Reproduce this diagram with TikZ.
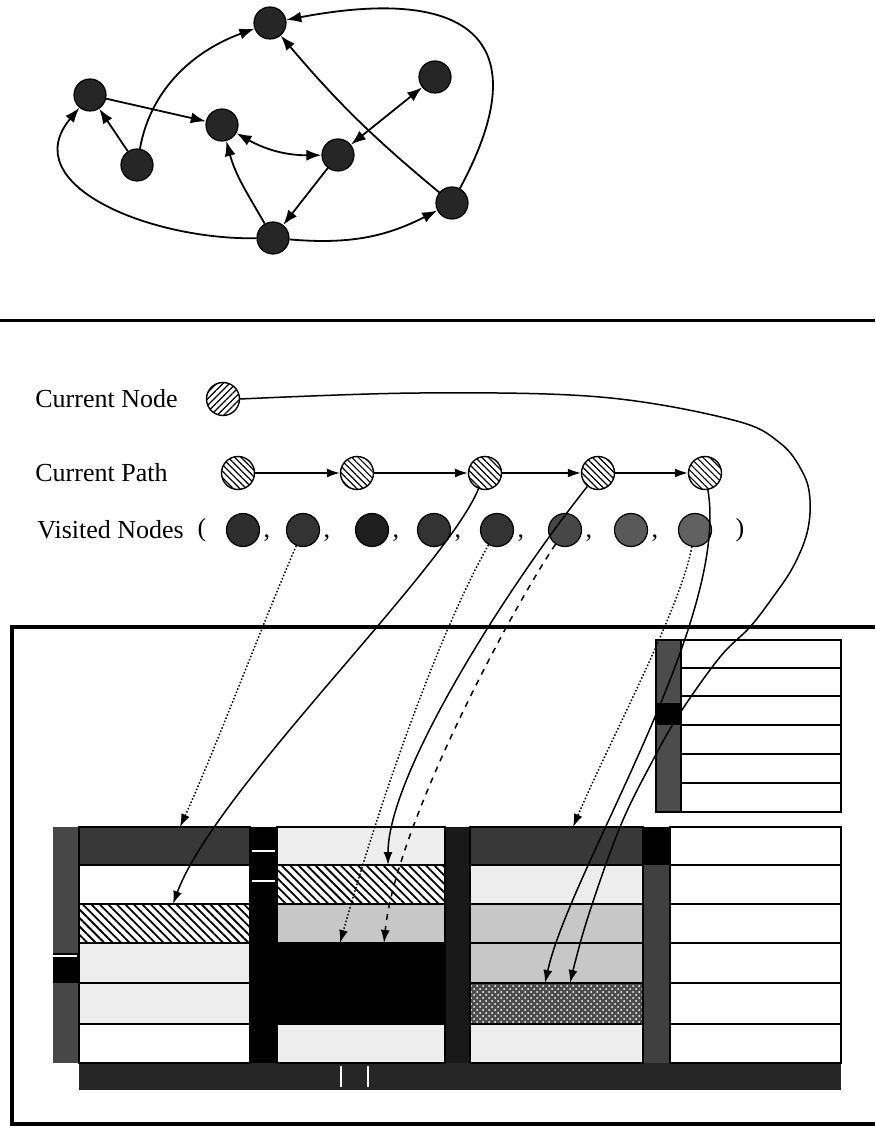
\documentclass[tikz,border=0pt]{standalone}
\usepackage{fontspec}
\setmainfont{Liberation Serif}
\usetikzlibrary{arrows.meta,patterns,patterns.meta}

\begin{document}
\begin{tikzpicture}[x=0.5pt,y=0.5pt,>={Latex[length=6.5pt,width=4.5pt]},
		gnode/.style={circle,draw,line width=0.6pt,fill=black!85,minimum size=16pt,inner sep=0pt},
		vnode/.style={circle,draw,line width=0.6pt,minimum size=16.5pt,inner sep=0pt},
		pnode/.style={circle,draw,line width=0.7pt,minimum size=16.5pt,inner sep=0pt,pattern={Lines[angle=-45,distance=2.3pt,line width=0.6pt]}},
		cnnode/.style={pnode,pattern={Lines[angle=45,distance=2.3pt,line width=0.6pt]}},
		lbl/.style={font=\fontsize{13}{15}\selectfont,inner sep=0pt},
		gedge/.style={line width=0.9pt,>={Latex[length=7.5pt,width=5.5pt]}},
		link/.style={line width=0.75pt},
		blankcell/.style={fill=white},
		darkcell/.style={fill=black!78},
		lightcell/.style={fill=black!7},
		midcell/.style={fill=black!22},
		blackcell/.style={fill=black},
		hatchcell/.style={pattern={Lines[angle=-45,distance=3pt,line width=0.9pt]}},
		xdots/.style={preaction={fill=black!70},pattern=crosshatch dots,pattern color=white}]
	\useasboundingbox (0,0) rectangle (875,-1127);

	% the graph
	\node[gnode] (A) at (270,-23) {};
	\node[gnode] (B) at (90,-95) {};
	\node[gnode] (C) at (435,-77) {};
	\node[gnode] (D) at (222,-125) {};
	\node[gnode] (E) at (338,-155) {};
	\node[gnode] (F) at (137,-165) {};
	\node[gnode] (G) at (452,-203) {};
	\node[gnode] (H) at (273,-238) {};
	\draw[gedge,->] (F) .. controls (151,-87) and (196,-50) .. (A);
	\draw[gedge,->] (F) -- (B);
	\draw[gedge,->] (B) -- (D);
	\draw[gedge,<->] (D) to[bend right=15] (E);
	\draw[gedge,<->] (C) -- (E);
	\draw[gedge,->] (E) -- (H);
	\draw[gedge,->] (H) to[out=120,in=-75] (D);
	\draw[gedge,->] (H) .. controls (150,-240) and (15,-185) .. (B);
	\draw[gedge,->] (H) to[bend right=16] (G);
	\draw[gedge,->] (G) to[bend left=5] (A);
	\draw[gedge,->] (G) .. controls (540,-40) and (470,15) .. (A);

	\draw[line width=1.5pt] (0,-321) -- (875,-321);

	% current node, path and visited nodes
	\node[lbl,anchor=west] (tcn) at (35,-399) {Current Node};
	\node[cnnode] (cn) at (223,-399) {};
	\node[lbl,anchor=west] (tcp) at (35,-473) {Current Path};
	\foreach \i/\x in {1/238,2/357,3/485,4/598,5/705}
		\node[pnode] (p\i) at (\x,-473) {};
	\foreach \i/\j in {1/2,2/3,3/4,4/5}
		\draw[link,->] (p\i) -- (p\j);
	\node[lbl,anchor=west] (tvn) at (37,-530) {Visited Nodes};
	\node[lbl] (lpar) at (202,-530) {(};
	\foreach \i/\x/\g in {1/243/82,2/303/80,3/372/88,4/434/80,5/497/80,6/565/72,7/631/65,8/695/62}
		\node[vnode,fill=black!\g] (v\i) at (\x,-530) {};
	\foreach \i in {1,...,7}
		\node[lbl,anchor=west] at ([shift={(3,-8)}]v\i.east) {,};
	\node[lbl] (rpar) at (740,-530) {)};

	% memory
	\draw[line width=2.3pt] (875,-627) -- (12,-627) -- (12,-1124) -- (875,-1124);
	\fill[black!70] (656,-640) rectangle (681,-812);
	\fill[black] (656,-703) rectangle (681,-725);
	\foreach \ya/\yb in {640/668,668/696,696/725,725/754,754/783,783/812}
		\draw[line width=0.8pt] (681,-\ya) rectangle (841,-\yb);
	\draw[line width=0.8pt] (656,-640) rectangle (841,-812);

	\fill[black!72] (53,-827) rectangle (79,-1063);
	\fill[black] (53,-953) rectangle (79,-983);
	\fill[black] (250,-827) rectangle (277,-1063);
	\fill[black!90] (445,-827) rectangle (470,-1063);
	\fill[black!75] (643,-827) rectangle (670,-1063);
	\fill[black] (643,-827) rectangle (670,-865);
	\fill[black!85] (79,-1063) rectangle (841,-1090);
	\draw[white,line width=0.8pt] (341,-1066) -- (341,-1087) (368,-1066) -- (368,-1087);
	\draw[white,line width=0.6pt] (252,-851) -- (275,-851) (252,-881) -- (275,-881) (53,-956) -- (77,-956);
	\foreach \xa/\xb/\ya/\yb/\s in {
			79/250/827/865/darkcell, 79/250/865/904/blankcell, 79/250/904/943/hatchcell,
			79/250/943/983/lightcell, 79/250/983/1024/lightcell, 79/250/1024/1063/blankcell,
			277/445/827/865/lightcell, 277/445/865/904/hatchcell, 277/445/904/943/midcell,
			277/445/943/983/blackcell, 277/445/983/1024/blackcell, 277/445/1024/1063/lightcell,
			470/643/827/865/darkcell, 470/643/865/904/lightcell, 470/643/904/943/midcell,
			470/643/943/983/midcell, 470/643/983/1024/xdots, 470/643/1024/1063/lightcell,
			670/841/827/865/blankcell, 670/841/865/904/blankcell, 670/841/904/943/blankcell,
			670/841/943/983/blankcell, 670/841/983/1024/blankcell, 670/841/1024/1063/blankcell}
		\filldraw[\s,line width=0.8pt] (\xa,-\ya) rectangle (\xb,-\yb);

	% pointers into memory
	\coordinate (a1) at (180,-827);
	\coordinate (a3) at (173,-904);
	\coordinate (b2) at (388,-865);
	\coordinate (b4) at (384,-943);
	\coordinate (b4l) at (340,-943);
	\coordinate (c1) at (573,-827);
	\coordinate (c5) at (545,-983);
	\coordinate (c5r) at (570,-983);
	\draw[link,->,densely dotted] (v2) .. controls (260,-630) and (215,-750) .. (a1);
	\draw[link,->] (p3) .. controls (445,-570) and (215,-790) .. (a3);
	\draw[link,->,densely dotted] (v5) .. controls (440,-630) and (380,-800) .. (b4l);
	\draw[link,->] (p4) .. controls (505,-590) and (388,-775) .. (b2);
	\draw[link,->,dashed] (v6) .. controls (505,-620) and (395,-830) .. (b4);
	\draw[link,->,densely dotted] (v8) .. controls (680,-610) and (610,-740) .. (c1);
	\draw[link,->] (p5) .. controls (730,-620) and (570,-870) .. (c5);
	\draw[link,->] plot[smooth,tension=0.6] coordinates {(cn.east) (420,-393) (600,-397) (733,-420) (780,-443) (803,-473) (810,-500) (807,-533) (793,-567) (773,-597) (750,-627) (720,-657) (680,-713) (653,-760) (620,-827) (587,-920) (c5r)};
\end{tikzpicture}
\end{document}
